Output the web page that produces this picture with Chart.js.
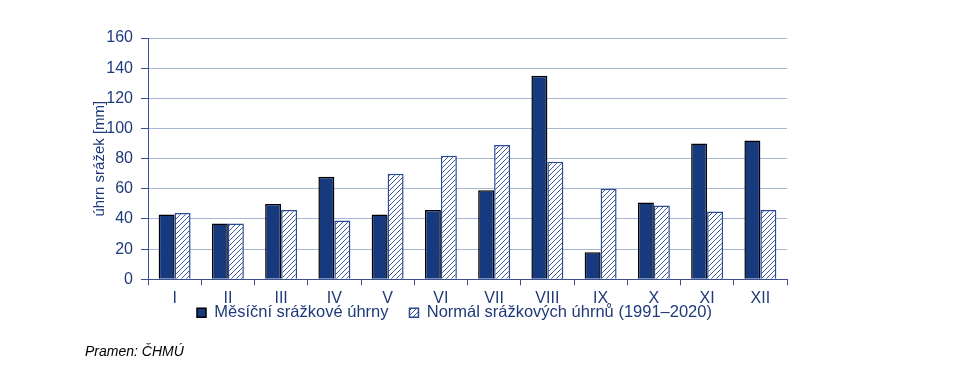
<!DOCTYPE html>
<html>
<head>
<meta charset="utf-8">
<script src="https://cdn.jsdelivr.net/npm/chart.js@4/dist/chart.umd.min.js"></script>
<style>
  html, body { margin: 0; padding: 0; background: #fff; }
  #wrap { position: relative; width: 967px; height: 374px; }
  #source { position: absolute; left: 85px; top: 343px; font: italic 14px "Liberation Sans", Arial, sans-serif; color: #000; }
</style>
</head>
<body>
<div id="wrap">
  <canvas id="chart" width="967" height="374"></canvas>
  <div id="source">Pramen: ČHMÚ</div>
</div>
<script>
const months = ['I', 'II', 'III', 'IV', 'V', 'VI', 'VII', 'VIII', 'IX', 'X', 'XI', 'XII'];
const monthlyRain = [43, 37, 50, 68, 43, 46, 59, 135, 18, 51, 90, 92];
const normalRain = [44, 37, 46, 39, 70, 82, 89, 78, 60, 49, 45, 46];
const yTicks = [0, 20, 40, 60, 80, 100, 120, 140, 160];

const navy = '#173a7e';
const textColor = '#1f3a7a';

// diagonal hatch for the normal series
function hatch() {
  const c = document.createElement('canvas');
  c.width = 5; c.height = 5;
  const g = c.getContext('2d');
  g.fillStyle = '#fff';
  g.fillRect(0, 0, 5, 5);
  g.strokeStyle = '#3b58a0';
  g.lineWidth = 1;
  g.beginPath();
  g.moveTo(0, 5); g.lineTo(5, 0);
  g.moveTo(-1, 1); g.lineTo(1, -1);
  g.moveTo(4, 6); g.lineTo(6, 4);
  g.stroke();
  return g.createPattern(c, 'repeat');
}

const font = { family: '"Liberation Sans", Arial, sans-serif', size: 16 };

// move the legend so it starts under month II and sits tight under the labels
const legendShift = {
  id: 'legendShift',
  afterLayout(chart) {
    const lg = chart.legend;
    const dx = 197 - (lg.left + lg.options.labels.padding);
    const dy = -29;
    lg.left += dx;
    lg.right += dx;
    lg.top += dy;
    lg.bottom += dy;
  }
};

new Chart(document.getElementById('chart').getContext('2d'), {
  type: 'bar',
  data: {
    labels: months,
    datasets: [{
      label: 'Měsíční srážkové úhrny',
      data: monthlyRain,
      backgroundColor: navy,
      borderColor: '#000',
      borderWidth: 1.5
    }, {
      label: 'Normál srážkových úhrnů (1991–2020)',
      data: normalRain,
      backgroundColor: hatch(),
      borderColor: '#2b4a94',
      borderWidth: 1.5
    }]
  },
  plugins: [legendShift],
  options: {
    responsive: false,
    animation: false,
    layout: { padding: { top: 38, right: 180, bottom: 14, left: 88 } },
    datasets: { bar: { categoryPercentage: 0.6, barPercentage: 1 } },
    plugins: {
      tooltip: { enabled: false },
      legend: {
        position: 'bottom',
        align: 'start',
        labels: {
          boxWidth: 9,
          boxHeight: 9,
          padding: 21,
          color: textColor,
          font: { family: font.family, size: 16.5 }
        }
      }
    },
    scales: {
      x: {
        offset: true,
        grid: { offset: true, drawOnChartArea: false, drawTicks: true, tickLength: 6, color: '#3a5090' },
        border: { color: '#3a5090', width: 1 },
        ticks: { color: textColor, font: font, padding: 4 }
      },
      y: {
        min: 0,
        max: 160,
        afterBuildTicks: s => { s.ticks = yTicks.map(v => ({ value: v })); },
        afterFit: s => { s.width = 60; },
        grid: { color: '#a9b6d3', lineWidth: 1, tickLength: 7, tickColor: '#3a5090' },
        border: { color: '#3a5090', width: 1 },
        ticks: { color: textColor, font: font, padding: 8 },
        title: { display: true, text: 'úhrn srážek [mm]', color: textColor, font: { family: font.family, size: 15 }, padding: 3 }
      }
    }
  }
});
</script>
</body>
</html>
